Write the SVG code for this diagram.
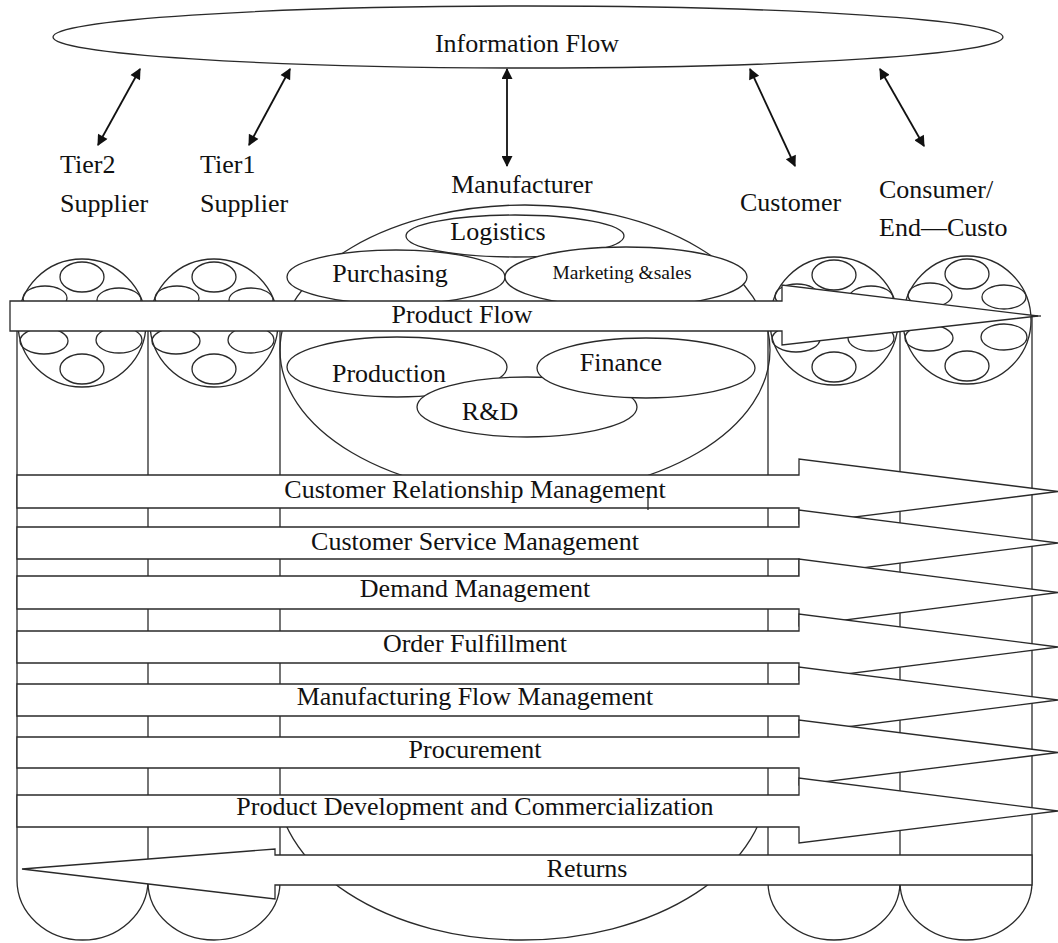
<svg xmlns="http://www.w3.org/2000/svg" xmlns:xlink="http://www.w3.org/1999/xlink" width="1058" height="943" viewBox="0 0 1058 943">
  <style>
    .ln { fill: none; stroke: #2a2a2a; stroke-width: 1.3; }
    .wf { fill: #ffffff; stroke: #2a2a2a; stroke-width: 1.3; }
    .lbl { font-family: "Liberation Serif", "Times New Roman", serif; font-size: 26px; fill: #111; }
    .sm { font-size: 19.5px; }
    .mid { text-anchor: middle; }
    .arr { fill: none; stroke: #111; stroke-width: 1.8; marker-start: url(#ah); marker-end: url(#ah); }
  </style>
  <defs>
    <marker id="ah" viewBox="0 0 10 10" refX="9" refY="5" markerWidth="14" markerHeight="11" markerUnits="userSpaceOnUse" orient="auto-start-reverse">
      <path d="M0,0 L10,5 L0,10 z" fill="#111"/>
    </marker>
    <!-- party wheel: outer circle with six member ellipses -->
    <g id="wheel">
      <circle cx="0" cy="0" r="64" class="wf"/>
      <ellipse cx="0" cy="-46" rx="22" ry="15" class="ln"/>
      <ellipse cx="-37" cy="-25" rx="22" ry="12" class="ln"/>
      <ellipse cx="37" cy="-23" rx="22" ry="12" class="ln"/>
      <ellipse cx="-38" cy="18" rx="24" ry="13" class="ln"/>
      <ellipse cx="37" cy="17" rx="23" ry="13" class="ln"/>
      <ellipse cx="0" cy="46" rx="22" ry="15" class="ln"/>
    </g>
  </defs>

  <rect width="1058" height="943" fill="#ffffff"/>

  <!-- information flow -->
  <g id="information-flow">
    <ellipse cx="528" cy="37" rx="475" ry="31" class="ln"/>
    <text x="527" y="52" class="lbl mid">Information Flow</text>
  </g>

  <!-- information links -->
  <g id="info-links">
    <line x1="140" y1="69" x2="98" y2="145" class="arr"/>
    <line x1="290" y1="69" x2="249" y2="145" class="arr"/>
    <line x1="507" y1="69" x2="507" y2="166" class="arr"/>
    <line x1="750" y1="69" x2="795" y2="166" class="arr"/>
    <line x1="880" y1="69" x2="924" y2="146" class="arr"/>
  </g>

  <!-- party labels -->
  <g id="party-labels">
    <text x="60" y="173" class="lbl">Tier2</text>
    <text x="60" y="212" class="lbl">Supplier</text>
    <text x="200" y="173" class="lbl">Tier1</text>
    <text x="200" y="212" class="lbl">Supplier</text>
    <text x="522" y="193" class="lbl mid">Manufacturer</text>
    <text x="740" y="211" class="lbl">Customer</text>
    <text x="879" y="198" class="lbl">Consumer/</text>
    <text x="879" y="236" class="lbl">End—Custo</text>
  </g>

  <!-- party wheels -->
  <g id="tier2-supplier"><use xlink:href="#wheel" href="#wheel" transform="translate(82,323)"/></g>
  <g id="tier1-supplier"><use xlink:href="#wheel" href="#wheel" transform="translate(214,323)"/></g>
  <g id="customer"><use xlink:href="#wheel" href="#wheel" transform="translate(834,321)"/></g>
  <g id="consumer"><use xlink:href="#wheel" href="#wheel" transform="translate(967,320)"/></g>

  <!-- manufacturer body -->
  <g id="manufacturer">
    <ellipse cx="525" cy="350" rx="245" ry="145" class="wf"/>
    <ellipse cx="522" cy="780" rx="246" ry="160" class="ln"/>
  </g>

  <!-- backing for the process lanes -->
  <rect x="17" y="475" width="782" height="352" fill="#ffffff"/>

  <!-- lane dividers -->
  <g id="lane-lines" class="ln">
    <line x1="17" y1="331" x2="17" y2="880"/>
    <line x1="148" y1="331" x2="148" y2="882"/>
    <line x1="280" y1="331" x2="280" y2="882"/>
    <line x1="768" y1="331" x2="768" y2="882"/>
    <line x1="900" y1="331" x2="900" y2="882"/>
    <line x1="1032" y1="316" x2="1032" y2="882"/>
  </g>

  <!-- manufacturer functions -->
  <g id="functions">
    <g id="logistics"><ellipse cx="515" cy="236" rx="109" ry="21" class="wf"/></g>
    <g id="purchasing"><ellipse cx="396" cy="277" rx="109" ry="27" class="wf"/></g>
    <g id="marketing"><ellipse cx="626" cy="277" rx="121" ry="30" class="wf"/></g>
    <g id="production"><ellipse cx="397" cy="367" rx="110" ry="30" class="wf"/></g>
    <g id="rnd"><ellipse cx="527" cy="407" rx="110" ry="30" class="wf"/></g>
    <g id="finance"><ellipse cx="646" cy="368" rx="109" ry="30" class="wf"/></g>
  </g>

  <!-- product flow -->
  <g id="product-flow">
    <path d="M10,301 H782 V285 L1038,316 L782,345 V331 H10 Z" class="wf"/>
    <line x1="1036" y1="316" x2="1041" y2="316" class="ln"/>
  </g>

  <!-- business processes -->
  <g id="processes">
    <g id="crm"><path d="M17,475 H799 V459 L1058,491.5 L799,524 V508 H17 Z" class="wf"/></g>
    <g id="csm"><path d="M17,527 H799 V510 L1058,543 L799,576 V559 H17 Z" class="wf"/></g>
    <g id="dm"><path d="M17,576 H799 V559 L1058,592.5 L799,626 V609 H17 Z" class="wf"/></g>
    <g id="of"><path d="M17,631 H799 V614 L1058,647 L799,680 V663 H17 Z" class="wf"/></g>
    <g id="mfm"><path d="M17,684 H799 V667 L1058,700 L799,733 V716 H17 Z" class="wf"/></g>
    <g id="proc"><path d="M17,737 H799 V720 L1058,752.5 L799,785 V768 H17 Z" class="wf"/></g>
    <g id="pdc"><path d="M17,795 H799 V778 L1058,811 L799,843 V827 H17 Z" class="wf"/></g>
    <line x1="648" y1="486" x2="648" y2="510" class="ln"/>
  </g>

  <!-- lower wheel halves -->
  <g id="wheel-bases" class="ln">
    <path d="M17,880 A65.5,60 0 0 0 148,880"/>
    <path d="M148,882 A66,58 0 0 0 280,882"/>
    <path d="M768,882 A66,58 0 0 0 900,882"/>
    <path d="M900,882 A66,58 0 0 0 1032,882"/>
  </g>

  <!-- returns -->
  <g id="returns">
    <path d="M1032,855 H275 V849 L22,869 L275,899 V885 H1032 Z" class="wf"/>
  </g>

  <!-- texts -->
  <g id="texts">
    <text x="462" y="323" class="lbl mid">Product Flow</text>
    <text x="498" y="240" class="lbl mid">Logistics</text>
    <text x="390" y="282" class="lbl mid">Purchasing</text>
    <text x="622" y="279" class="lbl sm mid">Marketing &amp;sales</text>
    <text x="389" y="382" class="lbl mid">Production</text>
    <text x="621" y="371" class="lbl mid">Finance</text>
    <text x="490" y="420" class="lbl mid">R&amp;D</text>
    <text x="475" y="498" class="lbl mid">Customer Relationship Management</text>
    <text x="475" y="550" class="lbl mid">Customer Service Management</text>
    <text x="475" y="597" class="lbl mid">Demand Management</text>
    <text x="475" y="652" class="lbl mid">Order Fulfillment</text>
    <text x="475" y="705" class="lbl mid">Manufacturing Flow Management</text>
    <text x="475" y="758" class="lbl mid">Procurement</text>
    <text x="475" y="815" class="lbl mid">Product Development and Commercialization</text>
    <text x="587" y="877" class="lbl mid">Returns</text>
  </g>
</svg>
